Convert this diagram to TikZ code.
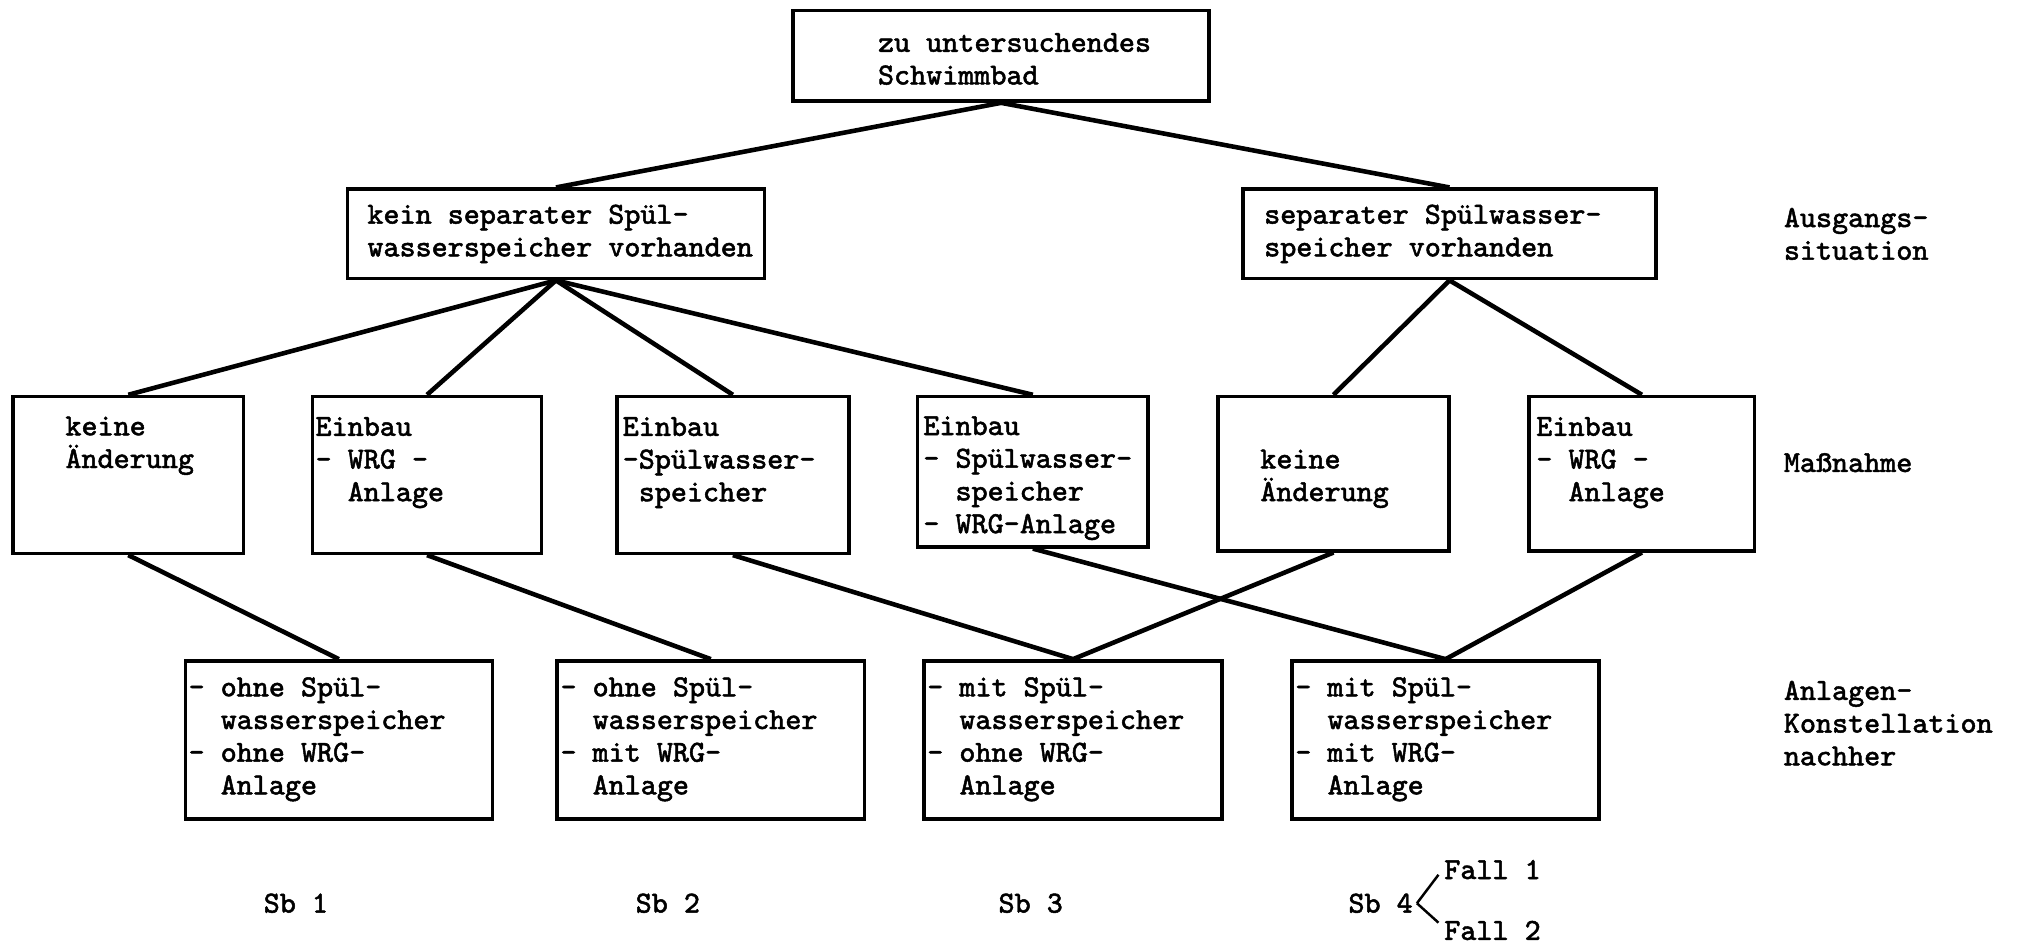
\documentclass[tikz,border=0pt]{standalone}
\usepackage{fontspec}
\newfontfamily\tw{Latin Modern Mono}[FakeBold=1.6]
\usetikzlibrary{fit}

\begin{document}
\begin{tikzpicture}[x=0.01296cm, y=-0.01296cm,
  box/.style={draw, line width=1pt, inner sep=0pt},
  txt/.style={font=\tw\fontsize{8.7}{9.3}\selectfont, align=left, inner sep=0pt, anchor=west},
  link/.style={line width=1.3pt},
  brace/.style={line width=0.7pt}]
\useasboundingbox (0,0) rectangle (1568,728);

% --- boxes
\node[box, fit={(612,8) (933,78)}] (top) {};
\node[box, fit={(268,146) (590,215)}] (kein) {};
\node[box, fit={(959,146) (1278,215)}] (sep) {};
\node[box, fit={(10,306) (188,427)}] (mA) {};
\node[box, fit={(241,306) (418,427)}] (mB) {};
\node[box, fit={(476,306) (655,427)}] (mC) {};
\node[box, fit={(708,306) (886,422)}] (mD) {};
\node[box, fit={(940,306) (1118,425)}] (mE) {};
\node[box, fit={(1180,306) (1354,425)}] (mF) {};
\node[box, fit={(143,510) (380,632)}] (kG) {};
\node[box, fit={(430,510) (667,632)}] (kH) {};
\node[box, fit={(713,510) (943,632)}] (kI) {};
\node[box, fit={(997,510) (1234,632)}] (kJ) {};

% --- box texts
\node[txt] (tTop) at (677,45.5) {zu untersuchendes\\Schwimmbad};
\node[txt] (tKein) at (283,180.5) {kein separater Spül-\\wasserspeicher vorhanden};
\node[txt] (tSep) at (975,180.5) {separater Spülwasser-\\speicher vorhanden};
\node[txt] (tA) at (50,344) {keine\\Änderung};
\node[txt] (tB) at (243,357) {Einbau\\- WRG -\\\hphantom{- }Anlage};
\node[txt] (tC) at (480,357) {Einbau\\-Spülwasser-\\\hphantom{-}speicher};
\node[txt] (tD) at (712,369) {Einbau\\- Spülwasser-\\\hphantom{- }speicher\\- WRG-Anlage};
\node[txt] (tE) at (972,369.5) {keine\\Änderung};
\node[txt] (tF) at (1185,357) {Einbau\\- WRG -\\\hphantom{- }Anlage};
\node[txt] (tG) at (145,570.5) {- ohne Spül-\\\hphantom{- }wasserspeicher\\- ohne WRG-\\\hphantom{- }Anlage};
\node[txt] (tH) at (432,570.5) {- ohne Spül-\\\hphantom{- }wasserspeicher\\- mit WRG-\\\hphantom{- }Anlage};
\node[txt] (tI) at (715,570.5) {- mit Spül-\\\hphantom{- }wasserspeicher\\- ohne WRG-\\\hphantom{- }Anlage};
\node[txt] (tJ) at (999,570.5) {- mit Spül-\\\hphantom{- }wasserspeicher\\- mit WRG-\\\hphantom{- }Anlage};

% --- row captions
\node[txt] (cAus) at (1376,180.5) {Ausgangs-\\situation};
\node[txt] (cMass) at (1376,357) {Maßnahme};
\node[txt] (cAnl) at (1376,558) {Anlagen-\\Konstellation\\nachher};

% --- case labels
\node[txt] (sb1) at (203,697) {Sb 1};
\node[txt] (sb2) at (490,697) {Sb 2};
\node[txt] (sb3) at (770,697) {Sb 3};
\node[txt] (sb4) at (1040,697) {Sb 4};
\node[txt] (f1) at (1114,671) {Fall 1};
\node[txt] (f2) at (1114,718) {Fall 2};
\draw[brace] ([xshift=1]sb4.east) -- ([shift={(-4,4)}]f1.west);
\draw[brace] ([xshift=1]sb4.east) -- ([shift={(-4,-6)}]f2.west);

% --- connectors
\draw[link] (top.south) -- (kein.north);
\draw[link] (top.south) -- (sep.north);
\foreach \m in {mA,mB,mC,mD}
  \draw[link] (kein.south) -- (\m.north);
\foreach \m in {mE,mF}
  \draw[link] (sep.south) -- (\m.north);
\draw[link] (mA.south) -- (kG.north);
\draw[link] (mB.south) -- (kH.north);
\draw[link] (mC.south) -- (kI.north);
\draw[link] (mE.south) -- (kI.north);
\draw[link] (mD.south) -- (kJ.north);
\draw[link] (mF.south) -- (kJ.north);
\end{tikzpicture}
\end{document}
